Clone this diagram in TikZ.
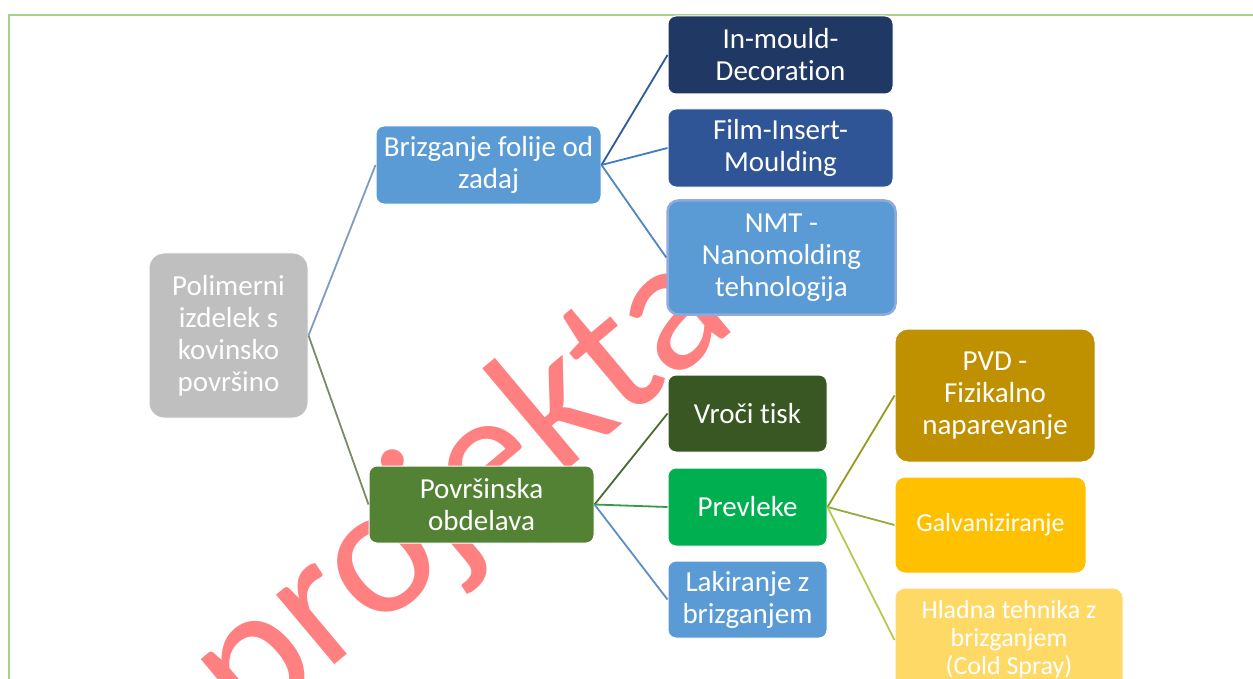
\documentclass[tikz,border=0pt]{standalone}
\usepackage{fontspec}
\setmainfont{Carlito}[Ligatures={NoCommon}]
\newfontfamily\wmfont{Carlito}[Ligatures={NoCommon}]
\definecolor{cPol}{HTML}{BFBFBF}
\definecolor{cBlue}{HTML}{5B9BD5}
\definecolor{cNavy}{HTML}{203864}
\definecolor{cMid}{HTML}{2F5597}
\definecolor{cNmtB}{HTML}{8FAADC}
\definecolor{cPov}{HTML}{548235}
\definecolor{cVro}{HTML}{385723}
\definecolor{cPre}{HTML}{00B050}
\definecolor{cPvd}{HTML}{BF9000}
\definecolor{cGal}{HTML}{FFC000}
\definecolor{cHla}{HTML}{FFD966}
\definecolor{cFrame}{HTML}{A9D18E}
\definecolor{cWm}{HTML}{FF8080}
\tikzset{
  box/.style={rectangle, draw=white, line width=1bp, text=white, align=center,
    inner sep=2bp, font=\fontsize{29bp}{32bp}\selectfont},
  smallbox/.style={box, font=\fontsize{26bp}{28bp}\selectfont},
  conn/.style={line width=1.8bp},
  frame/.style={draw=cFrame, line width=2.2bp},
  wmark/.style={text=cWm, inner sep=0pt, font=\wmfont\fontsize{190bp}{190bp}\selectfont}
}
\begin{document}
\begin{tikzpicture}[x=1bp,y=-1bp]
\useasboundingbox (0,0) rectangle (1253,679);
\clip (0,0) rectangle (1253,679);
\fill[white] (0,0) rectangle (1253,679);
% watermark (behind everything)
\node[wmark, rotate=40] (wm) at (463,493) {projekta};
% frame
\draw[frame] (9,679) -- (9,15) -- (1253,15);
% nodes
\node[box, fill=cPol, minimum width=159bp, minimum height=165bp, rounded corners=15bp] (pol) at (228.5,335.5) {Polimerni\\izdelek s\\kovinsko\\površino};
\node[box, fill=cBlue, minimum width=225bp, minimum height=78bp, rounded corners=8bp] (bri) at (488.5,165) {Brizganje folije od\\zadaj};
\node[box, fill=cNavy, minimum width=225bp, minimum height=78bp, rounded corners=8bp] (imd) at (780.5,55) {In-mould-\\Decoration};
\node[box, fill=cMid, minimum width=225bp, minimum height=78bp, rounded corners=8bp] (fim) at (780.5,148) {Film-Insert-\\Moulding};
\node[box, draw=cNmtB, line width=2.5bp, fill=cBlue, minimum width=228bp, minimum height=114bp, rounded corners=11bp] (nmt) at (781.5,257.5) {NMT -\\Nanomolding\\tehnologija};
\node[box, fill=cPov, minimum width=225bp, minimum height=77bp, rounded corners=8bp] (pov) at (481.5,504.5) {Površinska\\obdelava};
\node[box, fill=cVro, minimum width=159bp, minimum height=77bp, rounded corners=8bp] (vro) at (747.5,413.5) {Vroči tisk};
\node[box, fill=cPre, minimum width=159bp, minimum height=78bp, rounded corners=8bp] (pre) at (747.5,507) {Prevleke};
\node[box, fill=cBlue, minimum width=159bp, minimum height=77bp, rounded corners=8bp] (lak) at (747.5,599.5) {Lakiranje z\\brizganjem};
\node[box, fill=cPvd, minimum width=200bp, minimum height=133bp, rounded corners=13bp] (pvd) at (995,395.5) {PVD -\\Fizikalno\\naparevanje};
\node[smallbox, fill=cGal, minimum width=191bp, minimum height=96bp, rounded corners=10bp] (gal) at (990.5,525) {Galvaniziranje};
\node[smallbox, fill=cHla, minimum width=228bp, minimum height=104bp, rounded corners=10bp] (hla) at (1009,640) {Hladna tehnika z\\brizganjem\\(Cold Spray)};
% connectors
\draw[conn, draw={rgb,255:red,127;green,156;blue,192}] (pol.east) -- (bri.west);
\draw[conn, draw={rgb,255:red,120;green,140;blue,105}] (pol.east) -- (pov.west);
\draw[conn, draw={rgb,255:red,46;green,90;blue,154}] (bri.east) -- (imd.west);
\draw[conn, draw={rgb,255:red,59;green,125;blue,200}] (bri.east) -- (fim.west);
\draw[conn, draw={rgb,255:red,79;green,134;blue,192}] (bri.east) -- (nmt.west);
\draw[conn, draw={rgb,255:red,74;green,107;blue,46}] (pov.east) -- (vro.west);
\draw[conn, draw={rgb,255:red,58;green,154;blue,69}] (pov.east) -- (pre.west);
\draw[conn, draw={rgb,255:red,90;green,143;blue,200}] (pov.east) -- (lak.west);
\draw[conn, draw={rgb,255:red,150;green,155;blue,30}] (pre.east) -- (pvd.west);
\draw[conn, draw={rgb,255:red,140;green,175;blue,60}] (pre.east) -- (gal.west);
\draw[conn, draw={rgb,255:red,185;green,200;blue,80}] (pre.east) -- (hla.west);
\end{tikzpicture}
\end{document}
